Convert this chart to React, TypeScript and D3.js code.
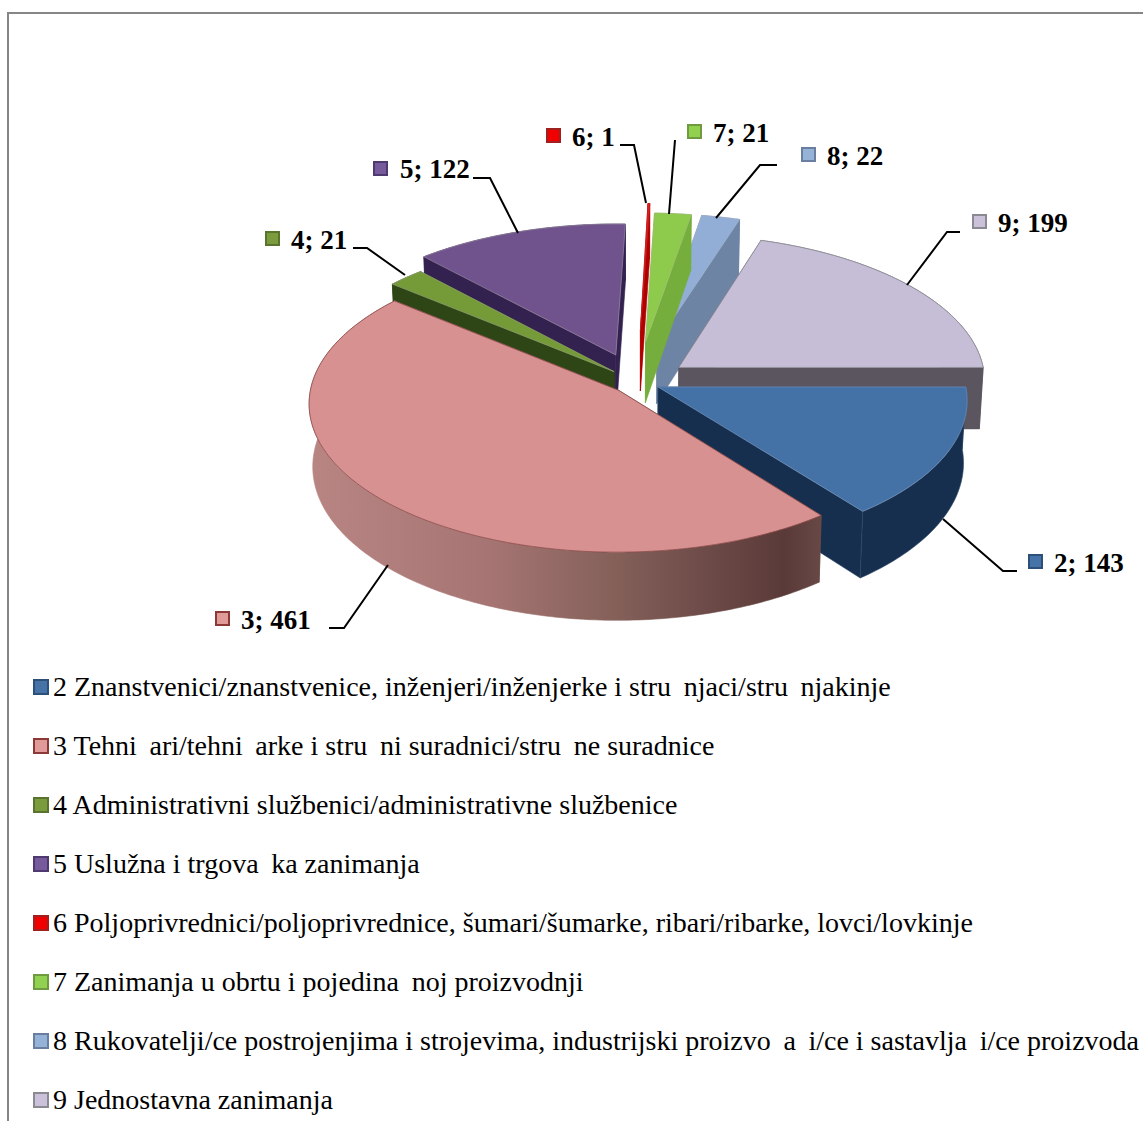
import React from "react";
import * as d3 from "d3";

const codes = ["2", "3", "4", "5", "6", "7", "8", "9"];
const values = [143, 461, 21, 122, 1, 21, 22, 199];
const legendNames = [
  "2 Znanstvenici/znanstvenice, inženjeri/inženjerke i stru \u2009njaci/stru \u2009njakinje",
  "3 Tehni \u2009ari/tehni \u2009arke i stru \u2009ni suradnici/stru \u2009ne suradnice",
  "4 Administrativni službenici/administrativne službenice",
  "5 Uslužna i trgova \u2009ka zanimanja",
  "6 Poljoprivrednici/poljoprivrednice, šumari/šumarke, ribari/ribarke, lovci/lovkinje",
  "7 Zanimanja u obrtu i pojedina \u2009noj proizvodnji",
  "8 Rukovatelji/ce postrojenjima i strojevima, industrijski proizvo \u2009a \u2009i/ce i sastavlja \u2009i/ce proizvoda",
  "9 Jednostavna zanimanja",
];
const topColors = ["#4471a6", "#d69190", "#759a38", "#70538c", "#ee1c1c", "#8ecb4c", "#93aed6", "#c6bdd7"];
const wallColors = ["#172f4e", "#8a5c5a", "#2e4516", "#33214f", "#b00000", "#75ae3c", "#6e84a4", "#5a555e"];
const edgeColors = ["#6f8fb5", "#8c4a48", "#8f9f70", "#8f8098", "#c02020", "#9fbf70", "#9fb0c8", "#909098"];
const markerFills = ["#4572a7", "#e09a98", "#7a9c3c", "#775a9c", "#f00000", "#92d050", "#95b3d7", "#ccc1da"];
const markerStrokes = ["#2c5078", "#8c3836", "#5a7430", "#4f3a70", "#a02020", "#6f9a40", "#6a7fa0", "#8a8a92"];
const explosions = [0.076, 0.082, 0.103, 0.2, 0.36, 0.28, 0.28, 0.17];
const paintOrder = [6, 5, 4, 7, 3, 2, 0, 1];

// label layout: marker top-left, text start, baseline and leader line
const labelBoxes = [
  { mx: 1028, my: 554, tx: 1054, ty: 572, line: [[1017, 571], [1003, 571], [943, 519]] },
  { mx: 215, my: 611, tx: 241, ty: 629, line: [[329, 628], [344, 628], [388, 565]] },
  { mx: 265, my: 231, tx: 291, ty: 249, line: [[353, 248], [367, 248], [405, 275]] },
  { mx: 373, my: 161, tx: 400, ty: 178, line: [[473, 178], [490, 178], [518, 233]] },
  { mx: 546, my: 128, tx: 572, ty: 146, line: [[620, 145], [634, 145], [646, 203]] },
  { mx: 687, my: 124, tx: 713, ty: 142, line: [[675, 140], [669, 214]] },
  { mx: 801, my: 147, tx: 827, ty: 165, line: [[777, 165], [760, 165], [716, 218]] },
  { mx: 972, my: 214, tx: 998, ty: 232, line: [[960, 232], [947, 232], [907, 285]] },
];

const CX = 637, CY = 382, R = 307, T = 146.5, K = 0.085, DEPTH = 62, TAPER = 0.00018;
const project = (X: number, Y: number, z = 0): [number, number] => {
  const s = 1 / (1 + K * Y);
  return [CX + s * R * X * (1 - TAPER * z), CY - s * (T * Y - z)];
};

const pieGen = d3.pie<number>().sort(null).startAngle(Math.PI / 2).endAngle(Math.PI * 2.5);
const arcs = pieGen(values);
const line = d3.line();
const legendY = d3.scalePoint<number>().domain(d3.range(8)).range([687, 1100]);

function slice(i: number) {
  const a = arcs[i];
  const m = (a.startAngle + a.endAngle) / 2;
  const ox = explosions[i] * Math.sin(m);
  const oy = explosions[i] * Math.cos(m);
  const n = Math.max(4, Math.ceil((a.endAngle - a.startAngle) * 60));
  const angles = d3.range(n + 1).map((k) => a.startAngle + ((a.endAngle - a.startAngle) * k) / n);
  const rim = angles.map((t) => [ox + Math.sin(t), oy + Math.cos(t)]);
  const top = [project(ox, oy), ...rim.map((p) => project(p[0], p[1]))];
  const base = [project(ox, oy, DEPTH), ...rim.map((p) => project(p[0], p[1], DEPTH))];
  const quad = (u: number, v: number) => [top[u], top[v], base[v], base[u]] as [number, number][];
  const outer = [...top.slice(1), ...base.slice(1).reverse()];
  const last = top.length - 1;
  return {
    top: line(top) + "Z",
    walls: [quad(0, 1), quad(0, last), outer].map((w) => line(w) + "Z"),
  };
}

export default function App() {
  React.useEffect(() => {
    document.body.style.margin = "0";
  }, []);
  return (
    <svg width={1143} height={1121} style={{ display: "block", background: "#fff" }}
      fontFamily="'Liberation Serif', 'Times New Roman', serif">
      <defs>
        <linearGradient id="pinkWall" gradientUnits="userSpaceOnUse" x1={310} x2={820} y1={0} y2={0}>
          <stop offset="0" stopColor="#b88583" />
          <stop offset="0.35" stopColor="#a67573" />
          <stop offset="0.6" stopColor="#846059" />
          <stop offset="0.8" stopColor="#6a4846" />
          <stop offset="0.93" stopColor="#5a3a38" />
          <stop offset="1" stopColor="#684845" />
        </linearGradient>
      </defs>
      <path d="M8 1121V13H1143" fill="none" stroke="#868686" strokeWidth={2} />
      {paintOrder.map((i) => {
        const s = slice(i);
        const wall = i === 1 ? "url(#pinkWall)" : wallColors[i];
        return (
          <g key={i}>
            {s.walls.map((d, k) => (
              <path key={k} d={d} fill={k === 1 && i === 1 ? "#5a3a38" : wall}
                stroke={i === 0 ? "#2a4669" : wall} strokeWidth={0.6} />
            ))}
            <path d={s.top} fill={topColors[i]} stroke={edgeColors[i]} strokeOpacity={0.8} strokeWidth={1} />
          </g>
        );
      })}
      {labelBoxes.map((b, i) => (
        <g key={i}>
          <path d={line(b.line as [number, number][])!} fill="none" stroke="#000" strokeWidth={2} />
          <rect x={b.mx + 1} y={b.my + 1} width={13} height={13} fill={markerFills[i]} stroke={markerStrokes[i]} strokeWidth={2} />
          <text x={b.tx} y={b.ty} fontSize={27} fontWeight="bold" fill="#000">
            {`${codes[i]}; ${values[i]}`}
          </text>
        </g>
      ))}
      {legendNames.map((name, i) => {
        const y = legendY(i)!;
        return (
          <g key={i}>
            <rect x={34} y={y - 7} width={14} height={14} fill={markerFills[i]} stroke={markerStrokes[i]} strokeWidth={2} />
            <text x={53} y={y + 9} fontSize={28} fill="#000" style={{ whiteSpace: "pre" }}>
              {name}
            </text>
          </g>
        );
      })}
    </svg>
  );
}
